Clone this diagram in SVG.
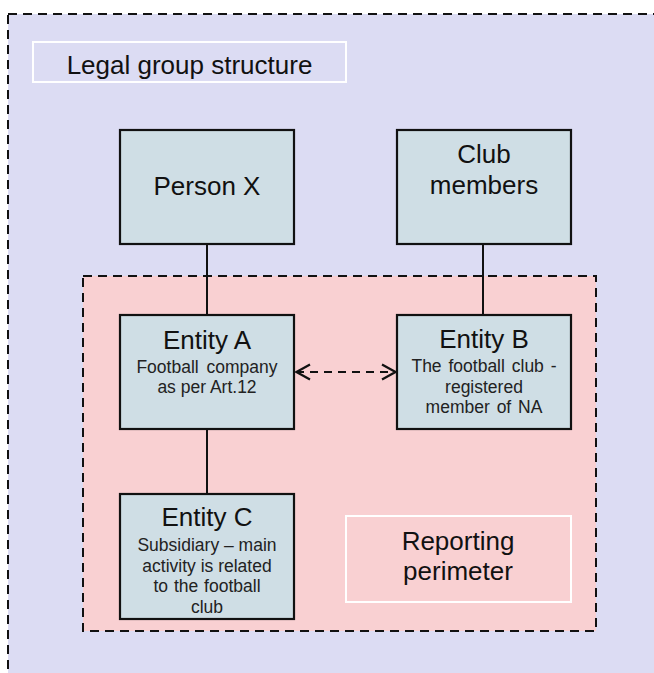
<svg xmlns="http://www.w3.org/2000/svg" width="654" height="673" viewBox="0 0 654 673">
  <defs>
    <style>
      .frame { fill: #dcdcf3; stroke: #111; stroke-width: 2; stroke-dasharray: 9 6; }
      .perimeter { fill: #f9d0d2; stroke: #111; stroke-width: 2; stroke-dasharray: 9 6; }
      .label-box { fill: none; stroke: #ffffff; stroke-width: 2; }
      .node { fill: #cfdee5; stroke: #111; stroke-width: 2.2; }
      .link { stroke: #111; stroke-width: 2; fill: none; }
      .dashed-link { stroke: #111; stroke-width: 2; fill: none; stroke-dasharray: 8 6; }
      text { font-family: "Liberation Sans", Arial, sans-serif; fill: #111; text-anchor: middle; }
      .big { font-size: 26px; }
      .small { font-size: 17.5px; fill: #222; }
    </style>
    <marker id="chevron" viewBox="0 0 16 18" refX="15" refY="9" markerWidth="16" markerHeight="18" markerUnits="userSpaceOnUse" orient="auto-start-reverse">
      <path d="M1,1.5 L14.5,9 L1,16.5" fill="none" stroke="#111" stroke-width="2.2"/>
    </marker>
  </defs>

  <rect x="0" y="0" width="654" height="673" fill="#ffffff"/>

  <!-- outer group frame -->
  <g id="legal-group">
    <rect class="frame" x="8" y="14" width="660" height="680"/>
    <rect class="label-box" x="33" y="42" width="313" height="40"/>
    <text class="big" x="189.5" y="74">Legal group structure</text>
  </g>

  <!-- reporting perimeter -->
  <g id="reporting-perimeter">
    <rect class="perimeter" x="83" y="276" width="513" height="355"/>
    <rect class="label-box" x="346" y="516" width="225" height="86"/>
    <text class="big" x="458" y="550">Reporting</text>
    <text class="big" x="458" y="580">perimeter</text>
  </g>

  <!-- connectors -->
  <g id="connectors">
    <line class="link" x1="207" y1="244" x2="207" y2="315"/>
    <line class="link" x1="483" y1="244" x2="483" y2="315"/>
    <line class="link" x1="207" y1="429" x2="207" y2="494"/>
    <line class="dashed-link" x1="296" y1="372" x2="396" y2="372" marker-start="url(#chevron)" marker-end="url(#chevron)"/>
  </g>

  <g id="person-x">
    <rect class="node" x="120" y="130" width="174" height="114"/>
    <text class="big" x="207" y="195">Person X</text>
  </g>

  <g id="club-members">
    <rect class="node" x="397" y="130" width="174" height="114"/>
    <text class="big" x="484" y="163">Club</text>
    <text class="big" x="484" y="194">members</text>
  </g>

  <g id="entity-a">
    <rect class="node" x="120" y="315" width="174" height="114"/>
    <text class="big" x="207" y="349">Entity A</text>
    <text class="small" x="207" y="373" word-spacing="3">Football company</text>
    <text class="small" x="207" y="393">as per Art.12</text>
  </g>

  <g id="entity-b">
    <rect class="node" x="397" y="315" width="174" height="114"/>
    <text class="big" x="484" y="348">Entity B</text>
    <text class="small" x="484" y="372" word-spacing="2">The football club -</text>
    <text class="small" x="484" y="393">registered</text>
    <text class="small" x="484" y="413" word-spacing="2">member of NA</text>
  </g>

  <g id="entity-c">
    <rect class="node" x="120" y="494" width="174" height="125"/>
    <text class="big" x="207" y="526">Entity C</text>
    <text class="small" x="207" y="551">Subsidiary – main</text>
    <text class="small" x="207" y="571.5">activity is related</text>
    <text class="small" x="207" y="592" word-spacing="1">to the football</text>
    <text class="small" x="207" y="612.5">club</text>
  </g>
</svg>
